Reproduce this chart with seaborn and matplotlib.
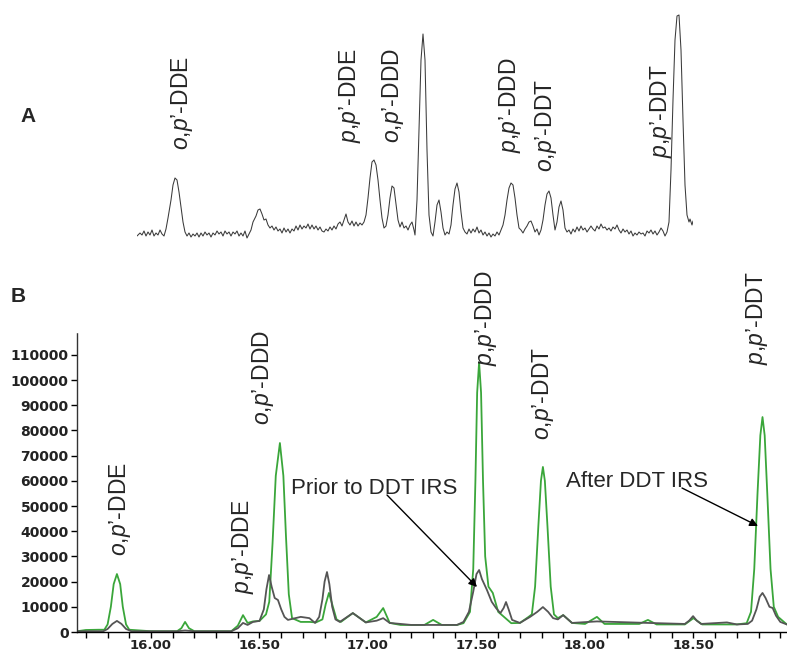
import numpy as np
import pandas as pd
import matplotlib
matplotlib.use("Agg")
import matplotlib.pyplot as plt
from matplotlib.ticker import FixedLocator, MultipleLocator, FixedFormatter
import seaborn as sns

# ---------------- data ----------------
# Panel B: retention time (min) vs abundance
after_rt = [15.66, 15.70, 15.76, 15.785, 15.80, 15.815, 15.828, 15.843, 15.858, 15.87, 15.885, 15.90,
            16.00, 16.12, 16.14, 16.157, 16.175, 16.20, 16.37, 16.40, 16.424, 16.445, 16.47, 16.50,
            16.53, 16.545, 16.56, 16.575, 16.594, 16.61, 16.622, 16.635, 16.65, 16.69, 16.73, 16.76,
            16.79, 16.805, 16.82, 16.835, 16.855, 16.875, 16.93, 16.99, 17.04, 17.07, 17.10, 17.15,
            17.26, 17.30, 17.34, 17.41, 17.44, 17.47, 17.485, 17.495, 17.503, 17.512, 17.521, 17.53,
            17.54, 17.555, 17.575, 17.60, 17.62, 17.64, 17.66, 17.70, 17.74, 17.755, 17.77, 17.785,
            17.797, 17.806, 17.815, 17.827, 17.842, 17.857, 17.875, 17.90, 17.94, 18.00, 18.055, 18.09,
            18.25, 18.29, 18.33, 18.46, 18.50, 18.54, 18.70, 18.745, 18.765, 18.78, 18.795, 18.808,
            18.818, 18.828, 18.84, 18.855, 18.87, 18.89, 18.93]
after_val = [300, 800, 900, 900, 3000, 10000, 19000, 23000, 19000, 10000, 3000, 900,
             300, 300, 1500, 4000, 1500, 300, 300, 2500, 6700, 3600, 4200, 4400,
             7000, 12000, 35000, 62000, 75000, 62000, 38000, 15000, 5500, 4000, 4000, 3800,
             5000, 11000, 15500, 11000, 5000, 4000, 7500, 3800, 6000, 9500, 3600, 2800,
             2800, 4800, 2800, 2800, 3500, 8000, 25000, 60000, 95000, 107000, 95000, 60000,
             30000, 18000, 15500, 8000, 6500, 5000, 3500, 3600, 6000, 7000, 18000, 42000,
             60000, 65500, 60000, 42000, 18000, 7000, 5500, 6700, 3600, 3200, 6000, 3200,
             3200, 4800, 3000, 3000, 5500, 3000, 3000, 3500, 8000, 25000, 55000, 78000,
             85300, 78000, 55000, 25000, 10000, 6000, 3000]

prior_rt = [15.66, 15.78, 15.80, 15.822, 15.843, 15.864, 15.885, 15.91, 16.12, 16.157, 16.20, 16.37,
            16.40, 16.424, 16.445, 16.47, 16.50, 16.52, 16.532, 16.544, 16.556, 16.57, 16.585, 16.60,
            16.615, 16.631, 16.69, 16.73, 16.756, 16.775, 16.79, 16.80, 16.811, 16.822, 16.835, 16.85,
            16.87, 16.93, 16.99, 17.04, 17.07, 17.10, 17.20, 17.41, 17.44, 17.465, 17.485, 17.50,
            17.512, 17.525, 17.548, 17.57, 17.59, 17.61, 17.625, 17.636, 17.648, 17.664, 17.70, 17.747,
            17.78, 17.806, 17.83, 17.853, 17.875, 17.899, 17.94, 18.055, 18.29, 18.46, 18.48, 18.498,
            18.515, 18.535, 18.654, 18.70, 18.75, 18.77, 18.79, 18.805, 18.818, 18.832, 18.85, 18.865,
            18.88, 18.90, 18.93]
prior_val = [300, 300, 1200, 3200, 4400, 3200, 1200, 300, 300, 600, 300, 300,
             1500, 3600, 2800, 4000, 4400, 9000, 17000, 22600, 18000, 13500, 12700, 9000,
             6000, 4800, 6000, 5500, 3600, 6000, 13000, 20000, 23800, 19000, 10000, 5000,
             4000, 7500, 3800, 4500, 5500, 3600, 2800, 2800, 4000, 8000, 16000, 23000,
             24600, 21000, 16700, 12000, 9500, 7500, 9500, 11900, 9000, 4800, 3600, 6000,
             8000, 9900, 8000, 5500, 5000, 6700, 3600, 4200, 3600, 3200, 4500, 6300,
             4500, 3200, 3800, 3000, 3200, 4500, 9000, 14000, 15500, 13500, 10000, 9500,
             6500, 4000, 3000]

y_ticks = [0, 10000, 20000, 30000, 40000, 50000, 60000, 70000, 80000, 90000, 100000, 110000]
x_tick_labels = ["16.00", "16.50", "17.00", "17.50", "18.00", "18.50"]

# Panel A: scan index (a.u.) vs signal (a.u.)
a_scan = [137, 140, 142, 144, 146, 148, 150, 152, 154, 156, 158, 160, 162, 164, 166, 168, 171, 173, 175, 177,
          179, 181, 183, 185, 187, 189, 191, 193, 195, 197, 199, 201, 203, 205, 207, 209, 211, 213, 215, 217,
          219, 221, 223, 225, 227, 229, 231, 233, 235, 237, 239, 241, 243, 245, 247, 249, 251, 253, 256, 258,
          260, 262, 264, 266, 268, 270, 272, 274, 276, 278, 280, 282, 284, 286, 288, 290, 292, 294, 296, 298,
          300, 302, 304, 306, 308, 310, 312, 314, 316, 318, 320, 322, 324, 326, 328, 330, 332, 334, 336, 338,
          340, 342, 344, 346, 348, 350, 352, 354, 356, 358, 360, 362, 364, 366, 368, 370, 372, 374, 376, 378,
          380, 382, 384, 386, 388, 390, 392, 394, 396, 398, 400, 402, 404, 406, 408, 410, 412, 414, 415, 417,
          419, 421, 423, 425, 427, 429, 431, 433, 435, 437, 439, 441, 443, 445, 447, 449, 451, 453, 455, 457,
          459, 461, 463, 465, 467, 469, 471, 473, 475, 477, 479, 481, 483, 485, 487, 489, 491, 493, 495, 497,
          499, 501, 503, 505, 507, 509, 511, 513, 515, 517, 519, 521, 523, 525, 527, 529, 531, 533, 535, 537,
          539, 541, 543, 545, 547, 549, 551, 553, 555, 557, 559, 561, 563, 565, 567, 569, 571, 573, 575, 577,
          579, 581, 583, 585, 587, 589, 591, 593, 595, 597, 599, 601, 603, 605, 607, 609, 611, 613, 615, 617,
          619, 621, 623, 625, 627, 629, 631, 633, 635, 637, 639, 641, 643, 645, 647, 649, 651, 653, 655, 657,
          659, 661, 663, 665, 667, 669, 671, 673, 675, 677, 679, 681, 683, 685, 687, 689, 690, 692, 693]
a_signal = [4, 7, 5, 9, 4, 8, 5, 10, 4, 7, 5, 10, 6, 4, 11, 22, 40, 55, 62, 60,
            48, 33, 18, 8, 4, 7, 3, 6, 4, 7, 3, 7, 4, 8, 5, 7, 3, 7, 5, 9,
            6, 8, 4, 9, 6, 8, 4, 8, 6, 9, 4, 7, 4, 9, 2, 6, 10, 18, 24, 30,
            31, 26, 20, 21, 15, 12, 14, 10, 13, 9, 11, 7, 12, 8, 11, 7, 11, 9, 14, 10,
            15, 11, 14, 12, 16, 11, 15, 11, 14, 10, 13, 9, 8, 11, 9, 13, 10, 14, 11, 16,
            18, 14, 20, 26, 18, 15, 19, 14, 18, 14, 17, 15, 18, 25, 42, 62, 78, 80, 75, 60,
            40, 22, 12, 14, 25, 42, 54, 52, 36, 20, 13, 18, 12, 14, 10, 15, 18, 10, 5, 40,
            110, 180, 206, 180, 90, 25, 8, 4, 18, 35, 40, 28, 12, 5, 8, 6, 15, 35, 51, 57,
            48, 28, 12, 8, 6, 11, 7, 11, 8, 13, 7, 10, 5, 8, 4, 7, 3, 6, 4, 8,
            5, 10, 15, 25, 40, 52, 57, 55, 42, 25, 12, 10, 7, 11, 14, 18, 19, 14, 8, 11,
            5, 10, 20, 35, 46, 49, 42, 25, 10, 18, 33, 39, 30, 12, 8, 10, 6, 11, 8, 13,
            9, 14, 10, 12, 8, 11, 14, 11, 9, 14, 11, 16, 12, 13, 10, 12, 9, 13, 11, 15,
            10, 7, 11, 8, 10, 6, 9, 4, 7, 5, 8, 6, 7, 4, 9, 7, 10, 6, 9, 5,
            8, 12, 9, 4, 8, 18, 70, 140, 200, 224, 225, 190, 120, 55, 25, 18, 21, 15, 19]

compounds_A = ["$o$,$p$’-DDE", "$p$,$p$’-DDE", "$o$,$p$’-DDD", "$p$,$p$’-DDD", "$o$,$p$’-DDT", "$p$,$p$’-DDT"]
compounds_B = ["$o$,$p$’-DDE", "$p$,$p$’-DDE", "$o$,$p$’-DDD", "$p$,$p$’-DDD", "$o$,$p$’-DDT", "$p$,$p$’-DDT"]

# ---------------- style ----------------
sns.set_theme(style="white")
plt.rcParams["font.family"] = ["Liberation Sans", "DejaVu Sans"]
plt.rcParams["mathtext.fontset"] = "custom"
plt.rcParams["mathtext.it"] = "Liberation Sans:italic"
plt.rcParams["mathtext.rm"] = "Liberation Sans"

W, H = 787, 652
fig = plt.figure(figsize=(W / 100, H / 100), dpi=100)

GREEN = "#3aa63a"
GRAY = "#555555"

# ---------------- panel A ----------------
axA = fig.add_axes([137 / W, 1 - 240 / H, 556 / W, 240 / H])
dfA = pd.DataFrame({"scan": a_scan, "signal": a_signal})
sns.lineplot(data=dfA, x="scan", y="signal", ax=axA, color="#3a3a3a", lw=0.75, estimator=None, sort=False)
axA.set_xlim(137, 693)
axA.set_ylim(0, 240)
axA.axis("off")

label_fs = 16.5
a_lab_x = [182, 350, 393, 510, 546, 661]
a_lab_y = [90, 97, 97, 87, 68, 82]
for name, lx, ly in zip(compounds_A, a_lab_x, a_lab_y):
    axA.text(lx, ly, name, rotation=90, ha="center", va="bottom", fontsize=label_fs)

# ---------------- panel B ----------------
t0 = 16 + (77 - 151) / 217
t1 = 16 + (787 - 151) / 217
ytop = (632 - 333) / 25.2 * 10000
axB = fig.add_axes([77 / W, 1 - 632 / H, 710 / W, (632 - 333) / H])

dfB = pd.concat([
    pd.DataFrame({"rt": after_rt, "abundance": after_val, "sample": "After DDT IRS"}),
    pd.DataFrame({"rt": prior_rt, "abundance": prior_val, "sample": "Prior to DDT IRS"}),
])
sns.lineplot(data=dfB, x="rt", y="abundance", hue="sample",
             palette={"After DDT IRS": GREEN, "Prior to DDT IRS": GRAY},
             ax=axB, lw=1.3, estimator=None, sort=False, legend=False)

axB.set_xlim(t0, t1)
axB.set_ylim(0, ytop)
axB.set_xlabel("")
axB.set_ylabel("")
for s in ["top", "right"]:
    axB.spines[s].set_visible(False)
axB.spines["left"].set_linestyle((0, (1, 1)))
axB.spines["left"].set_color("#333333")
axB.spines["left"].set_linewidth(1.0)
axB.spines["bottom"].set_color("black")
axB.spines["bottom"].set_linewidth(1.0)

axB.yaxis.set_major_locator(FixedLocator(y_ticks))
axB.set_yticklabels([str(v) for v in y_ticks])
xt = [float(s) for s in x_tick_labels]
axB.xaxis.set_major_locator(FixedLocator(xt))
axB.xaxis.set_major_formatter(FixedFormatter(x_tick_labels))
axB.xaxis.set_minor_locator(MultipleLocator(0.1))
axB.tick_params(axis="both", which="both", direction="out", length=4, width=1, color="black",
                bottom=True, left=True, pad=2)
axB.tick_params(axis="x", which="both", pad=1)
for lab in axB.get_xticklabels() + axB.get_yticklabels():
    lab.set_family("DejaVu Sans")
    lab.set_fontweight("bold")
    lab.set_fontsize(10)
    lab.set_color("#222222")
for lab in axB.get_xticklabels():
    lab.set_fontsize(9.5)

def px2data(px, py):
    return 16 + (px - 151) / 217, (632 - py) / 25.2 * 10000

b_lab_px = [(120, 556), (243, 594), (263, 425), (486, 366), (543, 440), (757, 365)]
for name, (px, py) in zip(compounds_B, b_lab_px):
    x, y = px2data(px, py)
    axB.text(x, y, name, rotation=90, ha="center", va="bottom", fontsize=label_fs, clip_on=False)

x, y = px2data(291, 494)
axB.text(x, y, "Prior to DDT IRS", ha="left", va="baseline", fontsize=16)
x, y = px2data(566, 487)
axB.text(x, y, "After DDT IRS", ha="left", va="baseline", fontsize=16)

arrow_kw = dict(arrowstyle="-|>", color="black", lw=1.0, mutation_scale=12, shrinkA=0, shrinkB=0)
axB.annotate("", xy=px2data(477, 587), xytext=px2data(387, 495), arrowprops=arrow_kw, annotation_clip=False)
axB.annotate("", xy=px2data(758, 526), xytext=px2data(682, 488), arrowprops=arrow_kw, annotation_clip=False)

fig.text(28 / W, 1 - 117 / H, "A", ha="center", va="center", fontsize=15, fontweight="bold")
fig.text(18 / W, 1 - 296 / H, "B", ha="center", va="center", fontsize=15, fontweight="bold")

fig.savefig("out.png", dpi=100)
